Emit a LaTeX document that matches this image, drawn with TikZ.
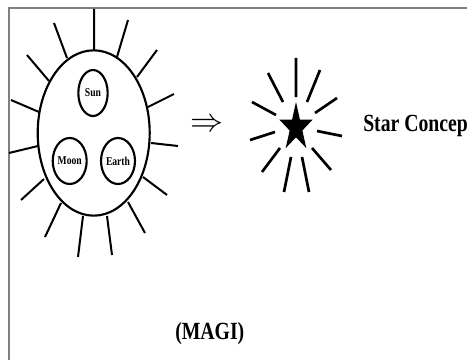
\documentclass[tikz,border=0pt]{standalone}
\usepackage{fontspec}
\setmainfont{Liberation Serif}
\usetikzlibrary{shapes.geometric}
\tikzset{
  ray/.style={line width=1.5pt},
  glow/.style={line width=2pt},
  orb/.style={draw, ellipse, line width=1.6pt, inner sep=0pt, minimum width=22pt, minimum height=34.5pt, font=\bfseries\fontsize{9}{10}\selectfont},
  bigtext/.style={inner sep=0pt, anchor=base west, font=\bfseries\fontsize{18.5}{20}\selectfont},
}
\newcommand{\narrow}[1]{\scalebox{0.8}[1]{#1}}
\begin{document}
\begin{tikzpicture}[x=0.75pt, y=-0.75pt]
    \useasboundingbox (0,0) rectangle (467,360);
    % Frame
    \draw[line width=1.5pt, black!50] (8.5,360) -- (8.5,8.5) -- (467,8.5);

    % Sun body with its three orbs
    \node[draw, ellipse, line width=1.6pt, inner sep=0pt, minimum width=84pt, minimum height=124pt] (body) at (93.7,133) {};
    \node[orb] (sun) at (93,93) {\narrow{Sun}};
    \node[orb] (moon) at (69.7,161) {\narrow{Moon}};
    \node[orb] (earth) at (118,161) {\narrow{Earth}};

    % Rays of the sun body
    \draw[ray] (94,9) -- (94,50)
        (54,23) -- (67,58)
        (128,20) -- (117,57)
        (27,55) -- (49,81)
        (157,50) -- (137,77)
        (11,100) -- (39,112)
        (174,94) -- (148,107)
        (9,153) -- (38,146)
        (178,146) -- (151,143)
        (21,200) -- (44,179)
        (167,195) -- (143,177)
        (45,237) -- (61,203)
        (145,233) -- (128,202)
        (78,257) -- (83,216)
        (112,255) -- (107,216);

    % Implies sign
    \node[inner sep=0pt, anchor=base west, font=\fontsize{24}{24}\selectfont] (implies) at (190,131.5) {$\Rightarrow$};

    % Star
    \fill[shift={(296,127.5)}] (0,-25.5) -- (3.93,-7.88) -- (16.64,-7.88) -- (6.36,3.01)
        -- (10.29,20.63) -- (0,9.74) -- (-10.29,20.63) -- (-6.36,3.01)
        -- (-16.64,-7.88) -- (-3.93,-7.88) -- cycle;

    % Rays of the star
    \draw[glow] (296,58) -- (296,97)
        (268,73) -- (283,102)
        (320,70) -- (307,102)
        (252,102) -- (276,115)
        (337,98) -- (315,113)
        (250,140) -- (275,132)
        (342,136) -- (317,131)
        (262,172) -- (280,148)
        (331,170) -- (312,148)
        (284,192) -- (291,157)
        (309,192) -- (302,157);

    % Captions
    \node[bigtext] (concept) at (363,131.7) {\narrow{Star Concept}};
    \node[bigtext] (magi) at (175,339.3) {\narrow{(MAGI)}};
\end{tikzpicture}
\end{document}
